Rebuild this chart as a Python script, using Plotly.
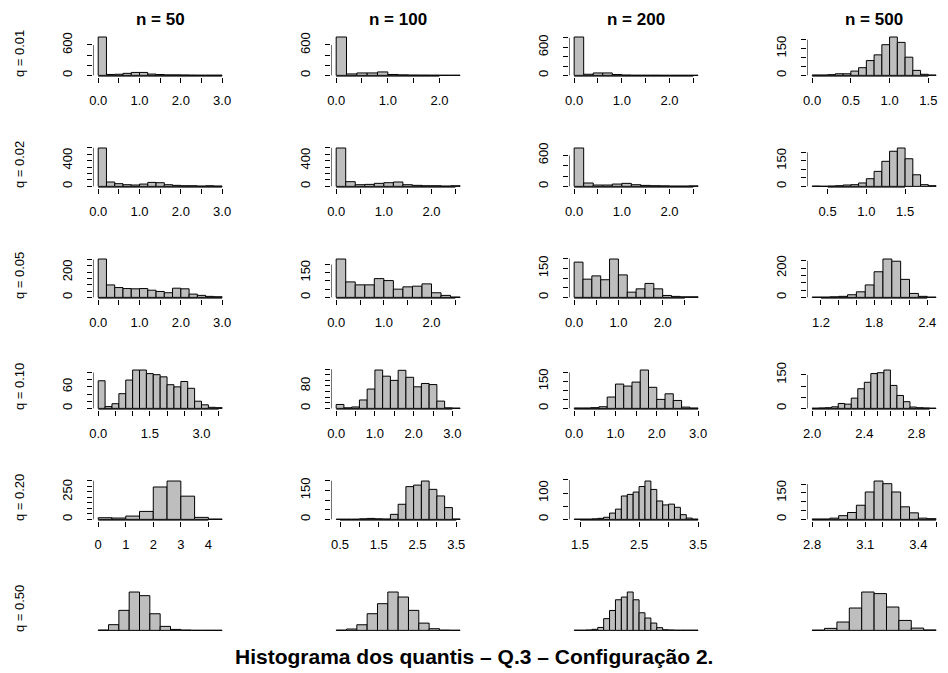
import plotly.graph_objects as go

W, H = 948, 673

col_titles = ["n = 50", "n = 100", "n = 200", "n = 500"]
row_titles = ["q = 0.01", "q = 0.02", "q = 0.05", "q = 0.10", "q = 0.20", "q = 0.50"]
main_title = "Histograma dos quantis – Q.3 – Configuração 2."

# ---------------- data: (bin start, bin width), counts, ticks ----------------
# q = 0.01
bins_q01_n50 = (0.0, 0.2)
counts_q01_n50 = [757, 18, 22, 40, 58, 58, 26, 17, 10, 10, 8, 5, 4, 4, 4]
bins_q01_n100 = (0.0, 0.2)
counts_q01_n100 = [757, 28, 48, 48, 68, 18, 10, 6, 5, 4, 3, 3]
bins_q01_n200 = (0.0, 0.2)
counts_q01_n200 = [820, 24, 52, 52, 18, 7, 3, 3, 3, 2, 2, 2, 2]
bins_q01_n500 = (0.0, 0.1)
counts_q01_n500 = [2, 2, 4, 9, 9, 24, 43, 83, 115, 172, 215, 185, 102, 28, 6, 2]

# q = 0.02
bins_q02_n50 = (0.0, 0.2)
counts_q02_n50 = [597, 68, 42, 26, 21, 36, 62, 57, 26, 16, 10, 10, 5, 10, 5]
bins_q02_n100 = (0.0, 0.2)
counts_q02_n100 = [597, 73, 26, 31, 47, 57, 68, 26, 16, 10, 10, 5, 10]
bins_q02_n200 = (0.0, 0.2)
counts_q02_n200 = [742, 65, 26, 26, 45, 58, 32, 19, 13, 10, 6, 6, 10]
bins_q02_n500 = (0.3, 0.1)
counts_q02_n500 = [2, 1, 2, 4, 8, 10, 20, 45, 88, 147, 206, 225, 162, 68, 10, 4]

# q = 0.05
bins_q05_n50 = (0.0, 0.2)
counts_q05_n50 = [305, 99, 78, 70, 68, 70, 57, 47, 37, 73, 68, 26, 16, 8, 5]
bins_q05_n100 = (0.0, 0.2)
counts_q05_n100 = [233, 94, 76, 76, 114, 102, 50, 64, 68, 82, 28, 12, 2]
bins_q05_n200 = (0.0, 0.2)
counts_q05_n200 = [182, 94, 111, 91, 198, 116, 27, 44, 72, 44, 10, 5, 3, 3]
bins_q05_n500 = (1.1, 0.1)
counts_q05_n500 = [2, 2, 4, 7, 18, 38, 85, 175, 262, 247, 123, 27, 7, 2]

# q = 0.10
bins_q10_n50 = (0.0, 0.2)
counts_q10_n50 = [77, 5, 13, 41, 79, 107, 107, 97, 94, 88, 66, 60, 75, 56, 20, 10, 3, 2]
bins_q10_n100 = (0.0, 0.2)
counts_q10_n100 = [14, 2, 5, 30, 69, 137, 115, 100, 136, 111, 77, 89, 85, 26, 2, 1]
bins_q10_n200 = (0.0, 0.2)
counts_q10_n200 = [2, 2, 4, 9, 63, 135, 124, 146, 213, 117, 50, 81, 44, 7, 2]
bins_q10_n500 = (2.0, 0.05)
counts_q10_n500 = [1, 2, 3, 7, 22, 19, 46, 88, 117, 156, 160, 172, 103, 58, 30, 6, 3, 2, 1]

# q = 0.20
bins_q20_n50 = (0.0, 0.5)
counts_q20_n50 = [15, 12, 30, 72, 293, 347, 210, 18, 3]
bins_q20_n100 = (0.4, 0.2)
counts_q20_n100 = [1, 1, 1, 3, 5, 3, 2, 26, 78, 169, 177, 198, 155, 121, 61, 2]
bins_q20_n200 = (1.4, 0.1)
counts_q20_n200 = [1, 1, 1, 2, 4, 8, 24, 39, 89, 95, 104, 125, 146, 114, 70, 55, 58, 46, 18, 5, 1]
bins_q20_n500 = (2.8, 0.05)
counts_q20_n500 = [2, 2, 7, 21, 39, 80, 155, 217, 202, 155, 71, 37, 7, 4]

# q = 0.50 (no axes drawn)
bins_q50_n50 = (2.0, 0.5)
counts_q50_n50 = [3, 47, 165, 316, 286, 137, 33, 8, 3, 1, 1, 1]
bins_q50_n100 = (3.0, 0.25)
counts_q50_n100 = [2, 9, 37, 110, 176, 253, 220, 132, 48, 11, 2, 1]
bins_q50_n200 = (3.0, 0.1)
counts_q50_n200 = [1, 1, 2, 5, 14, 56, 95, 146, 159, 183, 146, 84, 59, 35, 13, 3, 2, 1, 1, 1, 1]
bins_q50_n500 = (3.9, 0.1)
counts_q50_n500 = [2, 14, 58, 155, 266, 255, 162, 69, 16, 3]

# ---------------- tick values and labels ----------------
xt_0_30 = [0.0, 0.5, 1.0, 1.5, 2.0, 2.5, 3.0]
xl_0_30 = ["0.0", "", "1.0", "", "2.0", "", "3.0"]
xt_0_20 = [0.0, 0.5, 1.0, 1.5, 2.0]
xl_0_20 = ["0.0", "", "1.0", "", "2.0"]
xt_0_25 = [0.0, 0.5, 1.0, 1.5, 2.0, 2.5]
xl_0_25 = ["0.0", "", "1.0", "", "2.0", ""]
xt_0_15 = [0.0, 0.5, 1.0, 1.5]
xl_0_15 = ["0.0", "0.5", "1.0", "1.5"]
xt_05_15 = [0.5, 1.0, 1.5]
xl_05_15 = ["0.5", "1.0", "1.5"]
xt_12_24 = [1.2, 1.4, 1.6, 1.8, 2.0, 2.2, 2.4]
xl_12_24 = ["1.2", "", "", "1.8", "", "", "2.4"]
xt_0_35 = [0.0, 0.5, 1.0, 1.5, 2.0, 2.5, 3.0, 3.5]
xl_0_35 = ["0.0", "", "", "1.5", "", "", "3.0", ""]
xt_20_29 = [2.0, 2.1, 2.2, 2.3, 2.4, 2.5, 2.6, 2.7, 2.8, 2.9]
xl_20_29 = ["2.0", "", "", "", "2.4", "", "", "", "2.8", ""]
xt_0_4 = [0, 1, 2, 3, 4]
xl_0_4 = ["0", "1", "2", "3", "4"]
xt_05_35 = [0.5, 1.0, 1.5, 2.0, 2.5, 3.0, 3.5]
xl_05_35 = ["0.5", "", "1.5", "", "2.5", "", "3.5"]
xt_15_35 = [1.5, 2.0, 2.5, 3.0, 3.5]
xl_15_35 = ["1.5", "", "2.5", "", "3.5"]
xt_28_35 = [2.8, 2.9, 3.0, 3.1, 3.2, 3.3, 3.4, 3.5]
xl_28_35 = ["2.8", "", "", "3.1", "", "", "3.4", ""]

yt_200_600 = [0, 200, 400, 600]
yl_200_600 = ["0", "", "", "600"]
yt_200_800 = [0, 200, 400, 600, 800]
yl_200_800 = ["0", "", "", "600", ""]
yt_50_200 = [0, 50, 100, 150, 200]
yl_50_200 = ["0", "", "", "150", ""]
yt_100_600 = [0, 100, 200, 300, 400, 500, 600]
yl_100_600 = ["0", "", "", "", "400", "", ""]
yt_50_300 = [0, 50, 100, 150, 200, 250, 300]
yl_50_300 = ["0", "", "", "", "200", "", ""]
yt_50_250 = [0, 50, 100, 150, 200, 250]
yl_50_250 = ["0", "", "", "", "200", ""]
yt_20_100 = [0, 20, 40, 60, 80, 100]
yl_20_100 = ["0", "", "", "60", "", ""]
yt_20_140 = [0, 20, 40, 60, 80, 100, 120, 140]
yl_20_140 = ["0", "", "", "", "80", "", "", ""]
yt_50_150 = [0, 50, 100, 150]
yl_50_150 = ["0", "", "", "150"]
yt_50_350 = [0, 50, 100, 150, 200, 250, 300, 350]
yl_50_350 = ["0", "", "", "", "", "250", "", ""]
yl_50_150_100 = ["0", "", "100", ""]

panels = [
    (bins_q01_n50, counts_q01_n50, xt_0_30, xl_0_30, yt_200_600, yl_200_600),
    (bins_q01_n100, counts_q01_n100, xt_0_20, xl_0_20, yt_200_600, yl_200_600),
    (bins_q01_n200, counts_q01_n200, xt_0_25, xl_0_25, yt_200_800, yl_200_800),
    (bins_q01_n500, counts_q01_n500, xt_0_15, xl_0_15, yt_50_200, yl_50_200),
    (bins_q02_n50, counts_q02_n50, xt_0_30, xl_0_30, yt_100_600, yl_100_600),
    (bins_q02_n100, counts_q02_n100, xt_0_25, xl_0_25, yt_100_600, yl_100_600),
    (bins_q02_n200, counts_q02_n200, xt_0_25, xl_0_25, yt_200_600, yl_200_600),
    (bins_q02_n500, counts_q02_n500, xt_05_15, xl_05_15, yt_50_200, yl_50_200),
    (bins_q05_n50, counts_q05_n50, xt_0_30, xl_0_30, yt_50_300, yl_50_300),
    (bins_q05_n100, counts_q05_n100, xt_0_25, xl_0_25, yt_50_200, yl_50_200),
    (bins_q05_n200, counts_q05_n200, xt_0_25, xl_0_25, yt_50_200, yl_50_200),
    (bins_q05_n500, counts_q05_n500, xt_12_24, xl_12_24, yt_50_250, yl_50_250),
    (bins_q10_n50, counts_q10_n50, xt_0_35, xl_0_35, yt_20_100, yl_20_100),
    (bins_q10_n100, counts_q10_n100, xt_0_30, xl_0_30, yt_20_140, yl_20_140),
    (bins_q10_n200, counts_q10_n200, xt_0_30, xl_0_30, yt_50_200, yl_50_200),
    (bins_q10_n500, counts_q10_n500, xt_20_29, xl_20_29, yt_50_150, yl_50_150),
    (bins_q20_n50, counts_q20_n50, xt_0_4, xl_0_4, yt_50_350, yl_50_350),
    (bins_q20_n100, counts_q20_n100, xt_05_35, xl_05_35, yt_50_200, yl_50_200),
    (bins_q20_n200, counts_q20_n200, xt_15_35, xl_15_35, yt_50_150, yl_50_150_100),
    (bins_q20_n500, counts_q20_n500, xt_28_35, xl_28_35, yt_50_200, yl_50_200),
    (bins_q50_n50, counts_q50_n50, None, None, None, None),
    (bins_q50_n100, counts_q50_n100, None, None, None, None),
    (bins_q50_n200, counts_q50_n200, None, None, None, None),
    (bins_q50_n500, counts_q50_n500, None, None, None, None),
]

# ---------------- layout geometry (pixels) ----------------
COL_LEFT = [90, 330, 570, 810]
PLOT_W = 135
ROW_BASE0, ROW_STEP = 70, 112
PLOT_H = 41.8

FONT = "Liberation Sans, Arial, sans-serif"
TICK_FONT = dict(family=FONT, size=13, color="black")

fig = go.Figure()
layout = dict(
    width=W, height=H, margin=dict(l=0, r=0, t=0, b=0),
    paper_bgcolor="white", plot_bgcolor="white", showlegend=False,
    barmode="overlay", font=dict(family=FONT, color="black"),
)
annotations = []

for idx, (bins, counts, xt, xl, yt, yl) in enumerate(panels):
    r, c = divmod(idx, 4)
    k = idx + 1
    xa = "x" if k == 1 else f"x{k}"
    ya = "y" if k == 1 else f"y{k}"
    start, width = bins
    n = len(counts)
    hi = start + width * n
    span = hi - start
    xr = [start - 0.04 * span, hi + 0.04 * span]
    ymax = max(counts)
    yr = [-0.04 * ymax, 1.04 * ymax]
    centers = [start + width * (i + 0.5) for i in range(n)]

    fig.add_trace(go.Bar(
        x=centers, y=counts, width=[width] * n,
        marker=dict(color="#BEBEBE", line=dict(color="black", width=1)),
        xaxis=xa, yaxis=ya, hoverinfo="skip",
    ))

    base = ROW_BASE0 + ROW_STEP * r
    bottom = base + 0.04 / 1.08 * PLOT_H
    top = bottom - PLOT_H
    x0 = COL_LEFT[c]
    x1 = x0 + PLOT_W
    has_axes = xt is not None

    xaxis = dict(domain=[x0 / W, x1 / W], anchor=ya, range=xr, showgrid=False,
                 zeroline=False, showline=False, fixedrange=True)
    yaxis = dict(domain=[1 - bottom / H, 1 - top / H], anchor=xa, range=yr,
                 showgrid=False, zeroline=False, showline=False, fixedrange=True)
    if has_axes:
        xaxis.update(ticks="outside", ticklen=5, tickwidth=1, tickcolor="black",
                     tickvals=xt, ticktext=xl, tickfont=TICK_FONT,
                     ticklabelstandoff=6, tickangle=0)
        yaxis.update(ticks="outside", ticklen=5, tickwidth=1, tickcolor="black",
                     tickvals=yt, ticktext=yl, tickfont=TICK_FONT,
                     tickangle=-90, ticklabelstandoff=10)
        # R-style axis lines spanning first to last tick
        fig.add_trace(go.Scatter(x=[xt[0], xt[-1]], y=[yr[0], yr[0]], mode="lines",
                                 line=dict(color="black", width=1), cliponaxis=False,
                                 xaxis=xa, yaxis=ya, hoverinfo="skip"))
        fig.add_trace(go.Scatter(x=[xr[0], xr[0]], y=[yt[0], yt[-1]], mode="lines",
                                 line=dict(color="black", width=1), cliponaxis=False,
                                 xaxis=xa, yaxis=ya, hoverinfo="skip"))
    else:
        xaxis.update(showticklabels=False, ticks="")
        yaxis.update(showticklabels=False, ticks="")
    layout["xaxis" if k == 1 else f"xaxis{k}"] = xaxis
    layout["yaxis" if k == 1 else f"yaxis{k}"] = yaxis

    if r == 0:
        annotations.append(dict(text=f"<b>{col_titles[c]}</b>", x=(x0 + x1) / 2 / W,
                                y=1 - 14 / H, xref="paper", yref="paper",
                                showarrow=False, xanchor="center", yanchor="middle",
                                font=dict(family=FONT, size=17, color="black")))
    if c == 0:
        annotations.append(dict(text=row_titles[r], x=15 / W, y=1 - ((top + bottom) / 2 - 3) / H,
                                xref="paper", yref="paper", showarrow=False,
                                textangle=-90, xanchor="center", yanchor="middle",
                                font=dict(family=FONT, size=13, color="black")))

annotations.append(dict(text=f"<b>{main_title}</b>", x=0.5, y=1 - 656 / H,
                        xref="paper", yref="paper", showarrow=False,
                        xanchor="center", yanchor="middle",
                        font=dict(family=FONT, size=21, color="black")))
layout["annotations"] = annotations
fig.update_layout(**layout)
fig.write_html("out.html")
